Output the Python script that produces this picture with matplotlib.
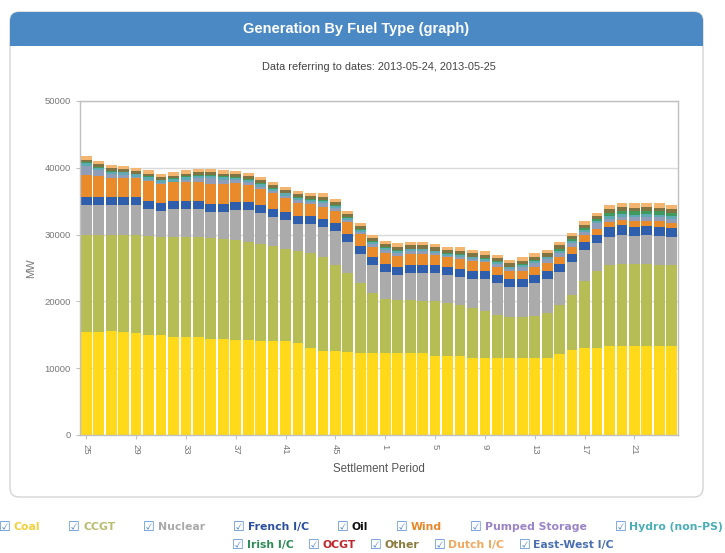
import matplotlib
matplotlib.use('Agg')
import matplotlib.pyplot as plt
from matplotlib.patches import FancyBboxPatch, Rectangle
from matplotlib.transforms import IdentityTransform

# settlement periods shown (two days joined)
periods = [25, 26, 27, 28, 29, 30, 31, 32, 33, 34, 35, 36, 37, 38, 39, 40,
           41, 42, 43, 44, 45, 46, 47, 48, 1, 2, 3, 4, 5, 6, 7, 8,
           9, 10, 11, 12, 13, 14, 15, 16, 17, 18, 19, 20, 21, 22, 23, 24]

# MW per fuel type
coal = [15400, 15400, 15500, 15400, 15300, 14900, 14900, 14600, 14700, 14600, 14300, 14300,
        14200, 14200, 14100, 14000, 14000, 13700, 13000, 12600, 12600, 12500, 12300, 12300,
        12300, 12300, 12300, 12300, 11900, 11900, 11900, 11600, 11600, 11600, 11600, 11600,
        11500, 11500, 12100, 12700, 13000, 13000, 13300, 13300, 13300, 13300, 13300, 13300]
ccgt = [14600, 14600, 14500, 14500, 14600, 14900, 14800, 15100, 15000, 15000, 15200, 15100,
        15000, 14700, 14500, 14300, 13900, 13900, 14300, 14000, 12800, 11700, 10400, 9000,
        8100, 7900, 7900, 7800, 8100, 7900, 7600, 7400, 6900, 6400, 6100, 6000,
        6300, 6800, 7400, 8300, 10000, 11500, 12100, 12300, 12300, 12300, 12200, 12100]
nuclear = [4500, 4400, 4400, 4500, 4500, 4100, 3900, 4100, 4100, 4200, 3900, 4000,
           4500, 4800, 4600, 4400, 4300, 4000, 4300, 4600, 5100, 4700, 4400, 4100,
           4000, 3800, 4100, 4200, 4300, 4200, 4200, 4400, 4800, 4700, 4400, 4600,
           4900, 5100, 4900, 4900, 4700, 4300, 4300, 4400, 4200, 4300, 4300, 4200]
french = [1200, 1200, 1200, 1200, 1200, 1200, 1200, 1200, 1200, 1200, 1200, 1200,
          1200, 1200, 1200, 1200, 1200, 1200, 1200, 1200, 1200, 1200, 1200, 1200,
          1200, 1200, 1200, 1200, 1200, 1200, 1200, 1200, 1200, 1200, 1200, 1200,
          1200, 1200, 1200, 1200, 1200, 1200, 1400, 1400, 1400, 1400, 1400, 1400]
wind = [3200, 3200, 2900, 2900, 2900, 2900, 2800, 2800, 2900, 2900, 3000, 3000,
        2800, 2600, 2500, 2300, 2100, 1900, 1800, 1800, 1800, 1800, 1800, 1600,
        1600, 1600, 1600, 1600, 1500, 1500, 1500, 1400, 1400, 1300, 1200, 1200,
        1200, 1100, 1100, 1000, 1000, 900, 800, 800, 800, 800, 800, 800]
pumped = [1400, 800, 500, 400, 100, 200, 100, 100, 300, 500, 800, 600,
          400, 300, 300, 300, 300, 500, 300, 600, 500, 300, 300, 400,
          500, 500, 400, 400, 200, 100, 300, 300, 200, 400, 300, 600,
          700, 600, 600, 600, 500, 800, 500, 500, 600, 600, 600, 600]
hydro = [400, 400, 400, 400, 400, 400, 400, 400, 400, 400, 400, 400,
         400, 400, 400, 400, 400, 300, 300, 300, 300, 300, 300, 300,
         300, 300, 300, 300, 300, 300, 300, 300, 300, 300, 300, 300,
         300, 300, 300, 300, 300, 300, 400, 400, 400, 400, 400, 400]
irish = [100, 100, 100, 100, 100, 100, 100, 100, 100, 100, 100, 100,
         100, 100, 100, 100, 100, 100, 100, 100, 100, 100, 100, 100,
         100, 100, 100, 100, 100, 100, 100, 100, 100, 100, 100, 100,
         100, 100, 300, 300, 300, 300, 500, 500, 500, 500, 500, 500]
other = [400, 400, 400, 400, 400, 400, 400, 400, 400, 400, 400, 400,
         400, 400, 400, 400, 400, 500, 500, 500, 500, 500, 500, 500,
         500, 500, 500, 500, 500, 500, 500, 500, 500, 500, 500, 500,
         500, 500, 500, 500, 500, 500, 500, 500, 500, 500, 500, 500]
dutch = [500, 500, 500, 500, 500, 500, 500, 500, 500, 500, 500, 500,
         500, 500, 500, 500, 500, 500, 500, 500, 500, 500, 500, 500,
         500, 500, 500, 500, 500, 500, 500, 500, 500, 500, 500, 500,
         500, 500, 500, 500, 500, 500, 700, 700, 700, 700, 700, 700]

# bottom -> top
stack = [
    (coal, '#ffd91a'),
    (ccgt, '#b6bd55'),
    (nuclear, '#ababab'),
    (french, '#2f5ead'),
    (wind, '#e98a2b'),
    (pumped, '#8f9db8'),
    (hydro, '#5eaab3'),
    (irish, '#3f9a5e'),
    (other, '#7f7442'),
    (dutch, '#f3b56f'),
]

legend_row1 = ['Coal', 'CCGT', 'Nuclear', 'French I/C', 'Oil', 'Wind', 'Pumped Storage', 'Hydro (non-PS)']
legend_row2 = ['Irish I/C', 'OCGT', 'Other', 'Dutch I/C', 'East-West I/C']
legend_colors = {
    'Coal': '#f2cf3c', 'CCGT': '#b9bd72', 'Nuclear': '#a9a9a9', 'French I/C': '#2b4f9e',
    'Oil': '#111111', 'Wind': '#e8862a', 'Pumped Storage': '#9a84c6', 'Hydro (non-PS)': '#4aaeb8',
    'Irish I/C': '#2e8b57', 'OCGT': '#c1272d', 'Other': '#8a7a3b', 'Dutch I/C': '#f2a85e',
    'East-West I/C': '#4a6fb3',
}

W, H = 725, 553
fig = plt.figure(figsize=(W / 100, H / 100), dpi=100)
plt.rcParams['font.family'] = ['Liberation Sans', 'DejaVu Sans']

def py(y):
    return H - y

# card + title bar (pixel coords)
card = FancyBboxPatch((10, py(497)), 693, 485, boxstyle='round,pad=0,rounding_size=9',
                      transform=IdentityTransform(), facecolor='white', edgecolor='#d4d4d4',
                      lw=1, zorder=-3)
fig.patches.append(card)
bar_top = FancyBboxPatch((10, py(46)), 693, 34, boxstyle='round,pad=0,rounding_size=9',
                         transform=IdentityTransform(), facecolor='#4a89c4', edgecolor='none',
                         zorder=-2)
fig.patches.append(bar_top)
fig.patches.append(Rectangle((10, py(46)), 693, 14, transform=IdentityTransform(),
                             facecolor='#4a89c4', edgecolor='none', zorder=-2))
fig.text(356 / W, py(29) / H, 'Generation By Fuel Type (graph)', color='white',
         fontsize=10.5, fontweight='bold', ha='center', va='center')

ax = fig.add_axes([80 / W, py(435) / H, 598 / W, 334 / H])
ax.set_zorder(2)
x = list(range(len(periods)))
bottom = [0] * len(periods)
for vals, col in stack:
    ax.bar(x, vals, bottom=bottom, width=0.86, color=col, linewidth=0, zorder=2)
    bottom = [b + v for b, v in zip(bottom, vals)]

ax.set_xlim(-0.5, len(periods) - 0.5)
ax.set_ylim(0, 50000)
ax.set_yticks([0, 10000, 20000, 30000, 40000, 50000])
ax.yaxis.grid(True, color='#d9d9d9', lw=1, zorder=0)
ax.set_axisbelow(True)
ax.set_xticks(x[::4])
ax.set_xticklabels([str(p) for p in periods[::4]], rotation=-90)
ax.tick_params(axis='both', labelsize=6.8, labelcolor='#777777', color='#c0c0c0', length=3)
for s in ax.spines.values():
    s.set_color('#c0c0c0')
    s.set_linewidth(1)
ax.set_ylabel('MW', fontsize=8, color='#777777', labelpad=6)
ax.set_xlabel('Settlement Period', fontsize=8.3, color='#555555', labelpad=6)
ax.set_title('Data referring to dates: 2013-05-24, 2013-05-25', fontsize=7.9,
             color='#444444', pad=22)

# legend of checkboxes below the card
fig.canvas.draw()
renderer = fig.canvas.get_renderer()

def legend_row(names, y, x0, x1=None, gap=12):
    items = []
    for name in names:
        box = fig.text(0, py(y) / H, '\u2611', color='#5b8fd6', fontsize=9.5,
                       family='DejaVu Sans', va='center')
        lab = fig.text(0, py(y) / H, name, color=legend_colors[name], fontsize=7.8,
                       fontweight='bold', family='DejaVu Sans', va='center')
        wb = box.get_window_extent(renderer).width
        wl = lab.get_window_extent(renderer).width
        items.append((box, lab, wb, wl))
    gap_in = 3
    text_w = sum(wb + gap_in + wl for _, _, wb, wl in items)
    if x1 is not None:
        gap = (x1 - x0 - text_w) / (len(items) - 1)
    cur = x0
    for box, lab, wb, wl in items:
        box.set_x(cur / W)
        lab.set_x((cur + wb + gap_in) / W)
        cur += wb + gap_in + wl + gap

legend_row(legend_row1, 527, -1, 723)
legend_row(legend_row2, 545, 232, gap=14)

fig.savefig('out.png', dpi=100)
